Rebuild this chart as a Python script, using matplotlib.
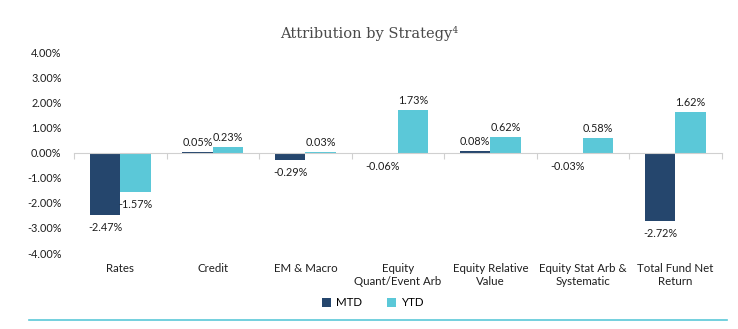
import matplotlib.pyplot as plt
import matplotlib.lines as mlines
import numpy as np

# dados do grafico
categorias = ['Rates', 'Credit', 'EM & Macro', 'Equity\nQuant/Event Arb',
              'Equity Relative\nValue', 'Equity Stat Arb &\nSystematic',
              'Total Fund Net\nReturn']
mtd = [-2.47, 0.05, -0.29, -0.06, 0.08, -0.03, -2.72]
ytd = [-1.57, 0.23, 0.03, 1.73, 0.62, 0.58, 1.62]
yticks = [-4, -3, -2, -1, 0, 1, 2, 3, 4]

cor_mtd = '#25466d'
cor_ytd = '#5bc8d8'

plt.rcParams['font.family'] = ['Lato', 'DejaVu Sans']

fig = plt.figure(figsize=(7.38, 3.29), dpi=100)
ax = fig.add_axes([0.1003, 0.231, 0.8777, 0.608])

x = np.arange(len(categorias))
w = 0.33
b1 = ax.bar(x - w / 2, mtd, w, color=cor_mtd, label='MTD')
b2 = ax.bar(x + w / 2, ytd, w, color=cor_ytd, label='YTD')

# rotulos dos valores
for barras, vals in ((b1, mtd), (b2, ytd)):
    for b, v in zip(barras, vals):
        cx = b.get_x() + b.get_width() / 2
        if v >= 0:
            ax.annotate(f'{v:.2f}%', (cx, v), xytext=(0, 3), textcoords='offset points',
                        ha='center', va='bottom', fontsize=7.8, color='#1e1e1e')
        else:
            ax.annotate(f'{v:.2f}%', (cx, v), xytext=(0, -5), textcoords='offset points',
                        ha='center', va='top', fontsize=7.8, color='#1e1e1e')

ax.set_xlim(-0.5, len(categorias) - 0.5)
ax.set_ylim(-4, 4)
ax.set_yticks(yticks)
ax.set_yticklabels([f'{t:.2f}%' for t in yticks], fontsize=7.8, color='#1e1e1e')
ax.tick_params(axis='y', length=0, pad=9)

# eixo x no zero com tracinhos entre as categorias
for s in ['top', 'right', 'left']:
    ax.spines[s].set_visible(False)
ax.spines['bottom'].set_position(('data', 0))
ax.spines['bottom'].set_color('#d0d0d0')
ax.set_xticks(np.arange(len(categorias) + 1) - 0.5)
ax.set_xticklabels([])
ax.tick_params(axis='x', length=4, color='#d0d0d0', direction='out')

for i, c in enumerate(categorias):
    ax.annotate(c, (i, -4), xytext=(0, -7), textcoords='offset points',
                ha='center', va='top', fontsize=8.3, color='#1e1e1e', linespacing=1.3)

# titulo
fig.text(0.5, 0.898, 'Attribution by Strategy\u2074', ha='center', va='center',
         fontsize=10.5, color='#4a4a4a', family=['DejaVu Serif'])

# legenda
fig.legend(handles=[b1, b2], labels=['MTD', 'YTD'], loc='center', bbox_to_anchor=(0.505, 0.08),
           ncol=2, frameon=False, fontsize=8.3, handlelength=0.8, handleheight=0.8,
           handletextpad=0.4, columnspacing=2.2)

# linha inferior
fig.add_artist(mlines.Line2D([29 / 738, 727 / 738], [1 - 320 / 329, 1 - 320 / 329],
                             color=cor_ytd, lw=1.2))

fig.savefig('out.png', dpi=100)
